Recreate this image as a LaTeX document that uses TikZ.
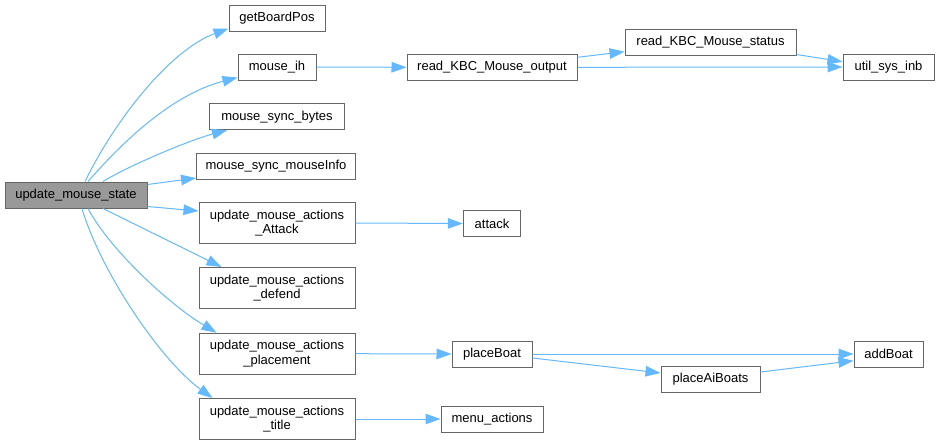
\documentclass[tikz,border=0pt]{standalone}
\usepackage{fontspec}
\setmainfont{Liberation Sans}
\usetikzlibrary{arrows.meta}
\definecolor{edgeblue}{HTML}{63B8FF}
\definecolor{boxgray}{HTML}{666666}
\definecolor{mainfill}{HTML}{999999}
\tikzset{
  fn/.style={draw=boxgray, line width=1pt, fill=white, inner sep=0pt, minimum height=26pt,
    font=\fontsize{13pt}{14.5pt}\selectfont, align=center, text=black},
  fn2/.style={fn, minimum height=41pt},
  mainfn/.style={fn, fill=mainfill},
  call/.style={draw=edgeblue, line width=1pt, -{Triangle[length=15pt,width=10.5pt]}}
}
\begin{document}
\begin{tikzpicture}[x=1pt,y=-1pt]
\useasboundingbox (0,0) rectangle (939,445);
% nodes
\node[mainfn, minimum width=142pt] (ums) at (76,195) {update\_mouse\_state};
\node[fn, minimum width=96pt] (gbp) at (277,18) {getBoardPos};
\node[fn, minimum width=78pt] (mih) at (277,67) {mouse\_ih};
\node[fn, minimum width=135pt] (msb) at (277,116.7) {mouse\_sync\_bytes};
\node[fn, minimum width=159pt] (msm) at (276,166.5) {mouse\_sync\_mouseInfo};
\node[fn2, minimum width=156pt] (uma) at (277,223) {update\_mouse\_actions\\\_Attack};
\node[fn2, minimum width=156pt] (umd) at (277,288) {update\_mouse\_actions\\\_defend};
\node[fn2, minimum width=156pt] (ump) at (277,353.7) {update\_mouse\_actions\\\_placement};
\node[fn2, minimum width=156pt] (umt) at (277,419) {update\_mouse\_actions\\\_title};
\node[fn, minimum width=170pt] (rko) at (492,67.3) {read\_KBC\_Mouse\_output};
\node[fn, minimum width=171pt] (rks) at (710.5,42) {read\_KBC\_Mouse\_status};
\node[fn, minimum width=91pt] (usi) at (888.5,67) {util\_sys\_inb};
\node[fn, minimum width=57.4pt] (att) at (492,223.5) {attack};
\node[fn, minimum width=80pt] (pb) at (492,354) {placeBoat};
\node[fn, minimum width=99pt] (pab) at (710.5,379) {placeAiBoats};
\node[fn, minimum width=69pt] (ab) at (888.5,354) {addBoat};
\node[fn, minimum width=102pt] (ma) at (492,419) {menu\_actions};
% edges from update_mouse_state
\draw[call] ([xshift=9pt]ums.north) .. controls (115,120) and (170,50) .. ([yshift=3pt]gbp.south west);
\draw[call] ([xshift=12pt]ums.north) .. controls (120,145) and (170,95) .. ([yshift=3pt]mih.south west);
\draw[call] ([xshift=27pt]ums.north) .. controls (130,165) and (190,140) .. ([xshift=18pt]msb.south west);
\draw[call] ([yshift=-3pt]ums.north east) -- ([yshift=2pt]msm.south west);
\draw[call] ([yshift=2pt]ums.south east) -- ([yshift=-9pt]uma.north west);
\draw[call] ([xshift=27pt]ums.south) -- ([xshift=23pt]umd.north west);
\draw[call] ([xshift=12pt]ums.south) .. controls (110,250) and (170,305) .. ([xshift=18pt]ump.north west);
\draw[call] ([xshift=6pt]ums.south) .. controls (100,270) and (160,360) .. ([xshift=14pt]umt.north west);
% other edges
\draw[call] (mih.east) -- (rko.west);
\draw[call] ([yshift=10pt]rko.east) -- ([yshift=-9.7pt]rks.west);
\draw[call] (rko.east) -- (usi.west);
\draw[call] ([yshift=1pt]rks.south east) -- ([yshift=5.3pt]usi.west);
\draw[call] (uma.east) -- (att.west);
\draw[call] (ump.east) -- (pb.west);
\draw[call] (umt.east) -- (ma.west);
\draw[call] (pb.east) -- (ab.west);
\draw[call] ([yshift=-4pt]pb.east) -- ([yshift=6pt]pab.west);
\draw[call] ([yshift=7pt]pab.east) -- ([yshift=-6.7pt]ab.west);
\end{tikzpicture}
\end{document}
